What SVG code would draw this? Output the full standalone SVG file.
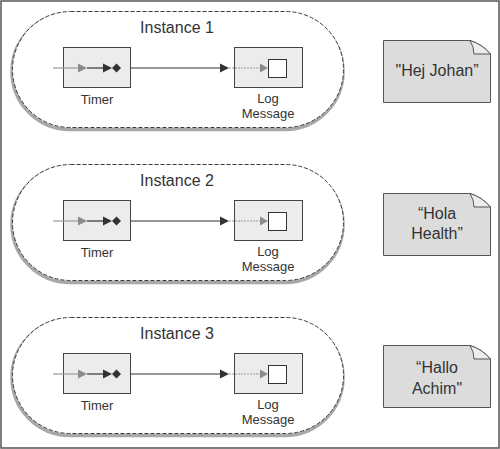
<svg xmlns="http://www.w3.org/2000/svg" width="500" height="449" viewBox="0 0 500 449">
<style>
.frame{fill:#fff;stroke:#555;stroke-width:1.5}
.shadow{fill:none;stroke:#a8a8a8;stroke-width:3.5}
.pill{fill:#fff;stroke:#3a3a3a;stroke-width:1;stroke-dasharray:4 2}
.box{fill:#ececec;stroke:#444;stroke-width:1}
.note{fill:#dcdcdc;stroke:#555;stroke-width:1}
.fold{fill:#ececec;stroke:#555;stroke-width:1}
.t{font-family:"Liberation Sans",Arial,sans-serif;fill:#333;text-anchor:middle}
.title{font-size:16px}
.lbl{font-size:13px}
.nt{font-size:16px}
.gline{stroke:#999;stroke-width:1.2;fill:none}
.dline{stroke:#333;stroke-width:1.2;fill:none}
.gtri{fill:#8c8c8c}
.dtri{fill:#333}
.sq{fill:#fff;stroke:#333;stroke-width:1}
</style>
<defs>
<g id="inst">
<rect class="shadow" x="12" y="13.5" width="331" height="116" rx="58"/>
<rect class="pill" x="12.5" y="11.5" width="331" height="116" rx="58"/>
</g>
<g id="timerbox">
<rect class="box" x="63.5" y="47.5" width="67" height="40"/>
<line class="gline" x1="53" y1="68" x2="80" y2="68"/>
<polygon class="gtri" points="78,63.5 87,68 78,72.5"/>
<line class="dline" x1="87" y1="68" x2="104" y2="68"/>
<polygon class="dtri" points="103,63.5 112,68 103,72.5"/>
<polygon class="dtri" points="116.5,63.5 121,68 116.5,72.5 112,68"/>
</g>
<g id="logbox">
<rect class="box" x="234.5" y="47.5" width="68" height="40"/>
<line class="gline" x1="229" y1="68" x2="261" y2="68" stroke-dasharray="2 1"/>
<polygon class="gtri" points="260,63.5 268,68 260,72.5"/>
<rect class="sq" x="268.5" y="59.5" width="18" height="18"/>
</g>
</defs>
<rect class="frame" x="1" y="1" width="498" height="447"/>

<g id="instance1">
<use href="#inst"/>
<text class="t title" x="177" y="33">Instance 1</text>
</g>
<g id="timer1">
<use href="#timerbox"/>
<text class="t lbl" x="97" y="104">Timer</text>
</g>
<g id="log1">
<use href="#logbox"/>
<text class="t lbl" x="268" y="103">Log</text>
<text class="t lbl" x="268" y="118">Message</text>
</g>

<g id="instance2" transform="translate(0,153)">
<use href="#inst"/>
<text class="t title" x="177" y="33">Instance 2</text>
</g>
<g id="timer2" transform="translate(0,153)">
<use href="#timerbox"/>
<text class="t lbl" x="97" y="104">Timer</text>
</g>
<g id="log2" transform="translate(0,153)">
<use href="#logbox"/>
<text class="t lbl" x="268" y="103">Log</text>
<text class="t lbl" x="268" y="118">Message</text>
</g>

<g id="instance3" transform="translate(0,306)">
<use href="#inst"/>
<text class="t title" x="177" y="33">Instance 3</text>
</g>
<g id="timer3" transform="translate(0,306)">
<use href="#timerbox"/>
<text class="t lbl" x="97" y="104">Timer</text>
</g>
<g id="log3" transform="translate(0,306)">
<use href="#logbox"/>
<text class="t lbl" x="268" y="103">Log</text>
<text class="t lbl" x="268" y="118">Message</text>
</g>

<g id="connectors">
<line class="dline" x1="130.5" y1="68" x2="221" y2="68"/>
<polygon class="dtri" points="220,63.5 229,68 220,72.5"/>
<line class="dline" x1="130.5" y1="221" x2="221" y2="221"/>
<polygon class="dtri" points="220,216.5 229,221 220,225.5"/>
<line class="dline" x1="130.5" y1="374" x2="221" y2="374"/>
<polygon class="dtri" points="220,369.5 229,374 220,378.5"/>
</g>

<g id="note1">
<path class="note" d="M383.5,40.5 H470 Q482,44 490.5,54 V102.5 H383.5 Z"/>
<path class="fold" d="M470,40.5 Q474,47 474,54 H490.5 Q482,44 470,40.5 Z"/>
<text class="t nt" x="437" y="76">"Hej Johan”</text>
</g>
<g id="note2">
<path class="note" d="M383.5,193.5 H470 Q482,197 490.5,207 V255.5 H383.5 Z"/>
<path class="fold" d="M470,193.5 Q474,200 474,207 H490.5 Q482,197 470,193.5 Z"/>
<text class="t nt" x="437" y="219">“Hola</text>
<text class="t nt" x="437" y="239">Health”</text>
</g>
<g id="note3">
<path class="note" d="M383.5,345.5 H470 Q482,349 490.5,359 V407.5 H383.5 Z"/>
<path class="fold" d="M470,345.5 Q474,352 474,359 H490.5 Q482,349 470,345.5 Z"/>
<text class="t nt" x="437" y="373">“Hallo</text>
<text class="t nt" x="437" y="394">Achim"</text>
</g>
</svg>
